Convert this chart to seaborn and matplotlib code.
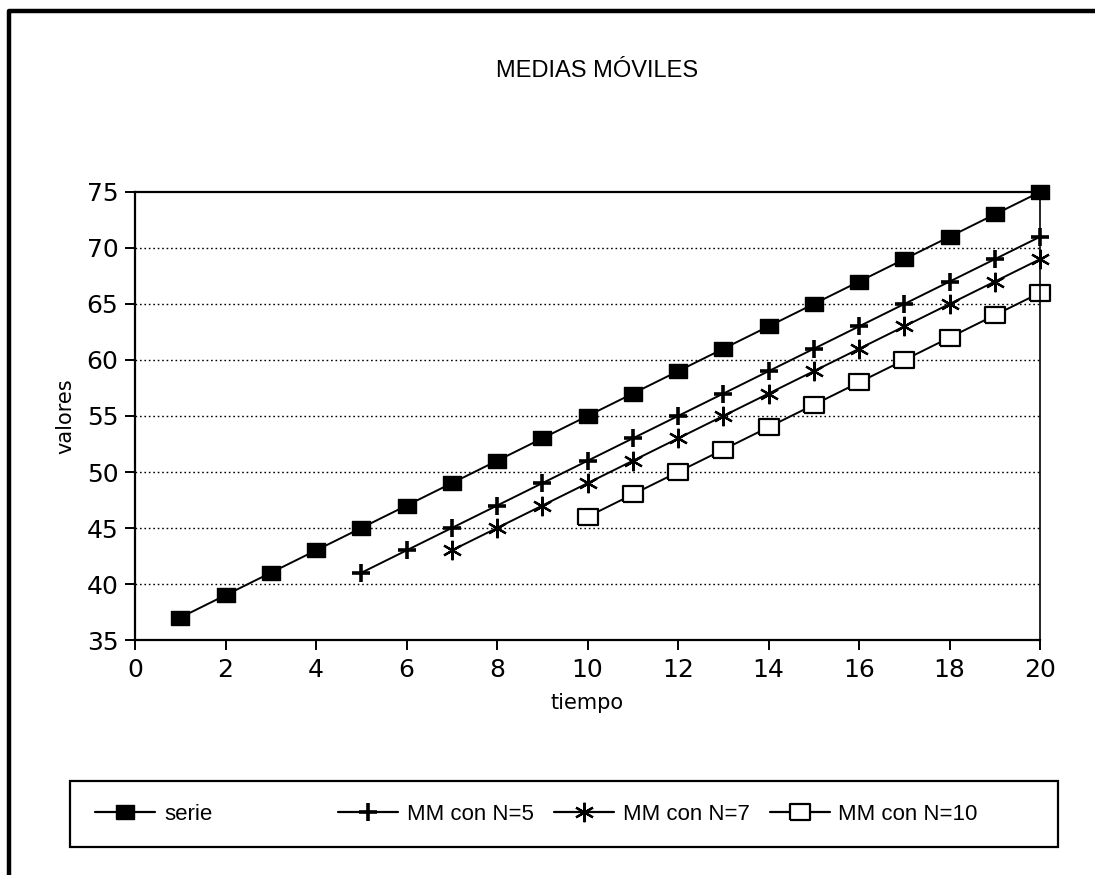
import matplotlib
matplotlib.use("Agg")
import matplotlib.pyplot as plt
from matplotlib.lines import Line2D
from matplotlib.patches import Rectangle
import seaborn as sns
import pandas as pd

# Datos: serie original y sus medias móviles
tiempo = list(range(1, 21))
serie = [37, 39, 41, 43, 45, 47, 49, 51, 53, 55, 57, 59, 61, 63, 65, 67, 69, 71, 73, 75]
t_mm5 = list(range(5, 21))
mm5 = [41, 43, 45, 47, 49, 51, 53, 55, 57, 59, 61, 63, 65, 67, 69, 71]
t_mm7 = list(range(7, 21))
mm7 = [43, 45, 47, 49, 51, 53, 55, 57, 59, 61, 63, 65, 67, 69]
t_mm10 = list(range(10, 21))
mm10 = [46, 48, 50, 52, 54, 56, 58, 60, 62, 64, 66]

etiquetas = ["serie", "MM con N=5", "MM con N=7", "MM con N=10"]
x_ticks = list(range(0, 21, 2))
y_ticks = list(range(35, 76, 5))

sns.set_theme(style="white")
plt.rcParams["font.family"] = ["DejaVu Sans"]
plt.rcParams["text.color"] = "black"
plt.rcParams["axes.labelcolor"] = "black"
narrow = ["Liberation Sans Narrow", "Liberation Sans", "DejaVu Sans"]

W, H = 1095, 875
fig = plt.figure(figsize=(W / 100, H / 100), dpi=100)
ax = fig.add_axes([135 / W, 1 - 640 / H, (1040 - 135) / W, (640 - 192) / H])

# rectángulo algo más ancho que alto
rect = [(-1.25, -1), (1.25, -1), (1.25, 1), (-1.25, 1), (-1.25, -1)]

series = [
    (tiempo, serie, dict(marker=rect, markersize=13, markerfacecolor="black",
                         markeredgecolor="black", markeredgewidth=1)),
    (t_mm5, mm5, dict(marker="+", markersize=13, markeredgewidth=2.6,
                      markeredgecolor="black")),
    (t_mm7, mm7, dict(marker=(6, 2, 0), markersize=14, markeredgewidth=1.6,
                      markeredgecolor="black")),
    (t_mm10, mm10, dict(marker=rect, markersize=14, markerfacecolor="white",
                        markeredgecolor="black", markeredgewidth=1.6)),
]

handles = []
for (xs, ys, mk), lab in zip(series, etiquetas):
    df = pd.DataFrame({"tiempo": xs, "valores": ys})
    sns.lineplot(data=df, x="tiempo", y="valores", ax=ax, color="black",
                 linewidth=1.4, clip_on=False, legend=False, **mk)
    handles.append(Line2D([0], [0], color="black", linewidth=1.6, **mk))

ax.set_xlim(0, 20)
ax.set_ylim(35, 75)
ax.set_xticks(x_ticks)
ax.set_yticks(y_ticks)

# líneas de referencia punteadas
for v in y_ticks[1:-1]:
    ax.axhline(v, color="black", linewidth=1.0, linestyle=(0, (1.2, 2.0)), zorder=0)

for side in ["left", "bottom", "top", "right"]:
    ax.spines[side].set_visible(True)
    ax.spines[side].set_color("black")
    ax.spines[side].set_linewidth(1.6)
ax.spines["right"].set_linewidth(1.2)

ax.tick_params(axis="x", direction="out", length=7, width=1.4, pad=6,
               labelsize=18, colors="black", bottom=True)
ax.tick_params(axis="y", direction="out", length=7, width=1.4, pad=5,
               labelsize=18, colors="black", left=True)

ax.set_xlabel("tiempo", fontsize=15, labelpad=8, color="black")
ax.set_ylabel("valores", fontsize=15, labelpad=8, color="black")

fig.text(597 / W, 1 - 71 / H, "MEDIAS MÓVILES", ha="center", va="center",
         fontsize=17, family=narrow, color="black")

# recuadro de la leyenda
fig.add_artist(Rectangle((70 / W, 1 - 847 / H), (1058 - 70) / W, (847 - 781) / H,
                         transform=fig.transFigure, fill=False,
                         edgecolor="black", linewidth=1.6))

leg_font = dict(family=narrow, size=16)
leg1 = fig.legend(handles[:1], etiquetas[:1], loc="center left",
                  bbox_to_anchor=(75 / W, 1 - 814 / H), frameon=False,
                  prop=leg_font, handlelength=2.7, handletextpad=0.4,
                  labelcolor="black")
leg2 = fig.legend(handles[1:], etiquetas[1:], loc="center left", ncol=3,
                  bbox_to_anchor=(318 / W, 1 - 814 / H), frameon=False,
                  prop=leg_font, handlelength=2.7, handletextpad=0.4,
                  columnspacing=0.9, labelcolor="black")

# marco exterior
fig.add_artist(Line2D([9 / W, 9 / W, 1.0], [0.0, 1 - 11 / H, 1 - 11 / H],
                      transform=fig.transFigure, color="black", linewidth=3.2))

fig.savefig("out.png", dpi=100, facecolor="white")
